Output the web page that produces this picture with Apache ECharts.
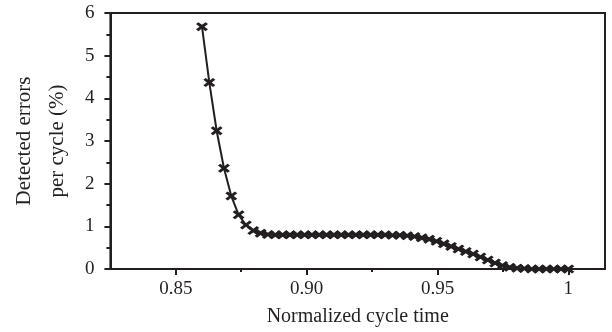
<!DOCTYPE html>
<html lang="en">
<head>
    <meta charset="utf-8">
    <title>Detected errors per cycle</title>
    <script src="https://cdn.jsdelivr.net/npm/echarts@6/dist/echarts.min.js"></script>
    <style>
        html, body { margin: 0; padding: 0; background: #fff; }
        #chart { width: 612px; height: 332px; }
    </style>
</head>
<body>
<div id="chart"></div>
<script>
    // normalized cycle time
    var cycleTime = [
        0.8600, 0.8628, 0.8656, 0.8684, 0.8712, 0.8740, 0.8768, 0.8796, 0.8824, 0.8852,
        0.8880, 0.8908, 0.8936, 0.8964, 0.8992, 0.9020, 0.9048, 0.9076, 0.9104, 0.9132,
        0.9160, 0.9188, 0.9216, 0.9244, 0.9272, 0.9300, 0.9328, 0.9356, 0.9384, 0.9412,
        0.9440, 0.9468, 0.9496, 0.9524, 0.9552, 0.9580, 0.9608, 0.9636, 0.9664, 0.9692,
        0.9720, 0.9748, 0.9776, 0.9804, 0.9832, 0.9860, 0.9888, 0.9916, 0.9944, 0.9972,
        1.0000
    ];
    // detected errors per cycle (%)
    var detectedErrors = [
        5.68, 4.37, 3.24, 2.36, 1.71, 1.27, 1.03, 0.90, 0.84, 0.81,
        0.80, 0.80, 0.80, 0.80, 0.80, 0.80, 0.80, 0.80, 0.80, 0.80,
        0.80, 0.80, 0.80, 0.80, 0.80, 0.80, 0.79, 0.79, 0.78, 0.76,
        0.73, 0.70, 0.65, 0.59, 0.53, 0.47, 0.41, 0.35, 0.28, 0.21,
        0.14, 0.08, 0.04, 0.02, 0.01, 0.00, 0.00, 0.00, 0.00, 0.00,
        0.00
    ];
    var xMajorTicks = [0.85, 0.90, 0.95, 1.00];
    var xMinorTicks = [0.875, 0.925, 0.975];

    var points = cycleTime.map(function (t, i) { return [t, detectedErrors[i]]; });

    var ink = '#231f20';
    var font = 'Liberation Serif';

    var chart = echarts.init(document.getElementById('chart'));
    chart.setOption({
        animation: false,
        grid: {
            left: 107, right: 7, top: 13, bottom: 63,
            show: true,
            borderColor: ink,
            borderWidth: 2
        },
        xAxis: [
            {
                type: 'value',
                min: 0.825,
                max: 1.014,
                name: 'Normalized cycle time',
                nameLocation: 'middle',
                nameGap: 38,
                nameTextStyle: { fontFamily: font, fontSize: 20, color: ink },
                axisLine: { lineStyle: { color: ink, width: 2 } },
                axisTick: { customValues: xMajorTicks, length: 6, lineStyle: { color: ink, width: 2 } },
                axisLabel: {
                    customValues: xMajorTicks,
                    margin: 11,
                    fontFamily: font, fontSize: 19, color: ink,
                    formatter: function (v) { return v === 1 ? '1' : v.toFixed(2); }
                },
                splitLine: { show: false }
            },
            {
                // minor ticks between the labelled ones
                type: 'value',
                min: 0.825,
                max: 1.014,
                position: 'bottom',
                axisLine: { show: false },
                axisTick: { customValues: xMinorTicks, length: 3, lineStyle: { color: ink, width: 2 } },
                axisLabel: { show: false },
                splitLine: { show: false }
            }
        ],
        yAxis: {
            type: 'value',
            min: 0,
            max: 6,
            interval: 1,
            name: 'Detected errors\nper cycle (%)',
            nameLocation: 'middle',
            nameGap: 32,
            nameTextStyle: { fontFamily: font, fontSize: 21, color: ink, lineHeight: 33 },
            axisLine: { show: true, lineStyle: { color: ink, width: 2 } },
            axisTick: { show: true, length: 6, lineStyle: { color: ink, width: 2 } },
            minorTick: { show: true, splitNumber: 2, length: 4, lineStyle: { color: ink, width: 2 } },
            axisLabel: { margin: 16, fontFamily: font, fontSize: 19, color: ink },
            splitLine: { show: false }
        },
        series: [
            {
                type: 'line',
                data: points,
                xAxisIndex: 0,
                symbol: 'path://M2,0 L5,3 L8,0 L10,2 L7,5 L10,8 L8,10 L5,7 L2,10 L0,8 L3,5 L0,2 Z',
                symbolSize: [12, 9],
                itemStyle: { color: ink },
                lineStyle: { color: ink, width: 2 }
            }
        ]
    });
</script>
</body>
</html>
